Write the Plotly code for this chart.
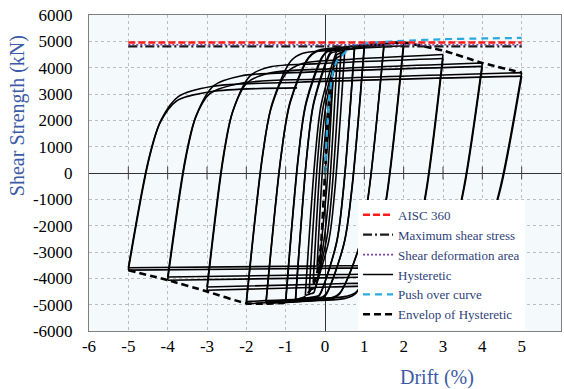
import plotly.graph_objects as go

# ---------------- data ----------------
# hysteretic cycles: drift amplitude (%), positive / negative peak shear (kN)
amp      = [0.2, 0.3, 0.4, 0.5, 0.75, 0.75, 1.0, 1.0, 1.5, 1.5, 2.0, 2.0, 3.0, 3.0, 4.0, 4.0, 5.0, 5.0]
pos_peak = [3500, 4150, 4450, 4620, 4780, 4720, 4850, 4780, 4900, 4850, 4950, 4830, 4500, 4350, 4180, 4050, 3810, 3680]
neg_peak = [-3500, -4150, -4450, -4650, -4850, -4800, -4920, -4850, -4950, -4900, -4960, -4880, -4450, -4330, -4070, -3950, -3690, -3600]
# unloading stiffness (kN per % drift) and plateau-start ratios of each cycle
unload_k = [26000, 25000, 23000, 21000, 19000, 19000, 17000, 17000, 14500, 14500, 13500, 13500, 12000, 12000, 10000, 10000, 8000, 8000]
r_pos    = [0.96, 0.95, 0.94, 0.94, 0.93, 0.93, 0.92, 0.92, 0.90, 0.90, 0.88, 0.88, 0.85, 0.85, 0.82, 0.82, 0.79, 0.79]
r_neg    = [0.96, 0.96, 0.95, 0.95, 0.94, 0.94, 0.94, 0.94, 0.93, 0.93, 0.92, 0.92, 0.91, 0.91, 0.92, 0.92, 0.93, 0.93]
last_reload_end = (0.0, 3450)   # final reloading branch stops near zero drift

# envelope of hysteretic
env_drift = [-5, -4, -3, -2, -1.5, -1, -0.5, -0.3, -0.2, -0.1, 0, 0.1, 0.2, 0.3, 0.5, 1, 1.5, 2, 3, 4, 5]
env_force = [-3690, -4070, -4500, -4950, -4960, -4920, -4700, -4250, -3800, -2700, 0,
             2700, 3800, 4250, 4650, 4880, 4950, 4950, 4650, 4180, 3810]

# push over curve
push_drift = [0, 0.1, 0.2, 0.3, 0.45, 0.7, 1.0, 1.3, 2, 3, 4, 5]
push_force = [0, 2800, 3800, 4250, 4490, 4830, 4920, 4960, 5020, 5080, 5110, 5130]

# horizontal capacity lines
ref_drift = [-5, 5]
aisc360 = 4955
max_shear_stress = 4810
shear_def_area = 4870

x_ticks = [-6, -5, -4, -3, -2, -1, 0, 1, 2, 3, 4, 5, 6]
y_ticks = [-6000, -5000, -4000, -3000, -2000, -1000, 0, 1000, 2000, 3000, 4000, 5000, 6000]

SERIF = "Liberation Serif"
TITLE_BLUE = "#3C5AA6"
LEG_BLUE = "#2E3F78"


def branch(x0, y0, x1, y1, k, r):
    """Key points of one loading branch (steep part, rounded knee, plateau)."""
    s = 1 if x1 > x0 else -1
    F = abs(y1)
    bx = x0 + s * (0.15 * F + abs(y0)) / k
    cx = bx + s * 0.4 * F / (0.6 * k)
    kx = cx + s * (r - 0.55) * F / (0.25 * k)
    lim = cx + 0.6 * (x1 - cx)
    kx = min(kx, lim) if s > 0 else max(kx, lim)
    ex = kx + 0.1 * (x1 - kx)
    fx = kx + 0.35 * (x1 - kx)
    xs = [x0, bx, cx, kx, ex, fx, x1]
    fr = (0.15, 0.55, r, r + 0.5 * (1 - r), r + 0.7 * (1 - r), 1.0)
    ys = [y0] + [s * F * f for f in fr]
    return xs, ys


fig = go.Figure()
hyst_line = dict(color="black", width=1.6, shape="spline", smoothing=0.9)

branches = [([0, amp[0]], [0, pos_peak[0]])]
n = len(amp)
for i in range(n):
    branches.append(branch(amp[i], pos_peak[i], -amp[i], neg_peak[i], unload_k[i], r_neg[i]))
    if i + 1 < n:
        branches.append(branch(-amp[i], neg_peak[i], amp[i + 1], pos_peak[i + 1], unload_k[i], r_pos[i + 1]))
    else:
        xs, ys = branch(-amp[i], neg_peak[i], amp[i], last_reload_end[1], unload_k[i], r_pos[i])
        keep = [j for j, v in enumerate(xs) if v <= last_reload_end[0]]
        branches.append(([xs[j] for j in keep], [ys[j] for j in keep]))

for j, (bx, by) in enumerate(branches):
    fig.add_trace(go.Scatter(x=bx, y=by, mode="lines", line=hyst_line,
                             name="Hysteretic", legendgroup="hyst", legendrank=4,
                             showlegend=(j == 0), hoverinfo="skip"))

fig.add_trace(go.Scatter(x=env_drift, y=env_force, mode="lines", name="Envelop of Hysteretic",
                         legendrank=6,
                         line=dict(color="black", width=2.6, dash="7px,4px", shape="spline", smoothing=0.5)))
fig.add_trace(go.Scatter(x=push_drift, y=push_force, mode="lines", name="Push over curve",
                         legendrank=5,
                         line=dict(color="#2AAAE0", width=2.2, dash="7px,5px", shape="spline", smoothing=0.6)))
fig.add_trace(go.Scatter(x=ref_drift, y=[max_shear_stress] * 2, mode="lines", name="Maximum shear stress",
                         legendrank=2, line=dict(color="#1A1A1A", width=2.2, dash="9px,3px,2px,3px")))
fig.add_trace(go.Scatter(x=ref_drift, y=[shear_def_area] * 2, mode="lines", name="Shear deformation area",
                         legendrank=3, line=dict(color="#7B3FA8", width=1.6, dash="2px,2px")))
fig.add_trace(go.Scatter(x=ref_drift, y=[aisc360] * 2, mode="lines", name="AISC 360",
                         legendrank=1, line=dict(color="#FF1A1A", width=2.4, dash="7px,3px")))

# small tick marks on the zero line
fig.add_trace(go.Scatter(x=x_ticks[1:-1], y=[0] * (len(x_ticks) - 2), mode="markers", showlegend=False,
                         hoverinfo="skip",
                         marker=dict(symbol="line-ns", size=9, line=dict(color="#404040", width=1))))

axis_common = dict(showgrid=True, gridcolor="#BDBDBD", griddash="dot", gridwidth=1,
                   zeroline=True, zerolinecolor="#333333", zerolinewidth=1,
                   showline=True, linecolor="#7F7F7F", linewidth=1, mirror=True,
                   ticks="", tickfont=dict(family=SERIF, size=17, color="black"))

fig.update_xaxes(range=[-6, 6], tickvals=x_ticks, ticktext=[str(v) for v in x_ticks],
                 ticklabelstandoff=0, **axis_common)
fig.update_yaxes(range=[-6000, 6000], tickvals=y_ticks, ticktext=[str(v) for v in y_ticks],
                 ticklabelstandoff=12, **axis_common)

fig.add_annotation(text="Shear Strength (kN)", xref="paper", yref="paper", x=-0.1525, y=0.68,
                   xanchor="center", yanchor="middle",
                   textangle=-90, showarrow=False, font=dict(family=SERIF, size=20, color=TITLE_BLUE))
fig.add_annotation(text="Drift (%)", xref="paper", yref="paper", x=0.737, y=-0.1456,
                   xanchor="center", yanchor="middle",
                   showarrow=False, font=dict(family=SERIF, size=20, color=TITLE_BLUE))

fig.update_layout(
    width=564, height=389,
    margin=dict(l=89, r=3, t=15, b=58),
    paper_bgcolor="white", plot_bgcolor="#F4F9FB",
    showlegend=True,
    legend=dict(x=0.57, y=0.415, xanchor="left", yanchor="top", bgcolor="white",
                borderwidth=0, font=dict(family=SERIF, size=13, color=LEG_BLUE),
                tracegroupgap=0, itemwidth=30),
)

fig.write_html("out.html")
